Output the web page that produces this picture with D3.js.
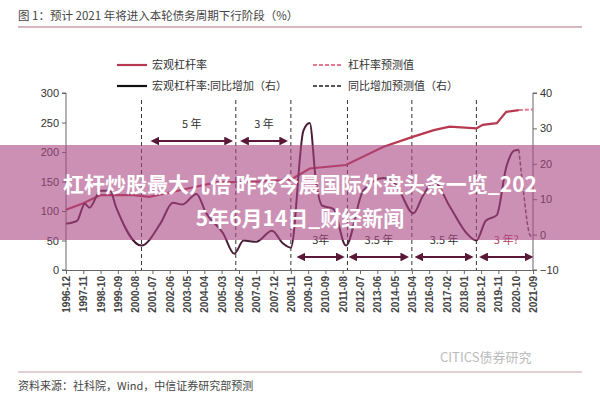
<!DOCTYPE html>
<html><head><meta charset="utf-8">
<script src="https://cdn.jsdelivr.net/npm/d3@7"></script>
<style>body{margin:0;background:#fff}svg{font-family:"Noto Sans CJK SC","Liberation Sans",sans-serif}</style>
</head><body><svg id="c" width="600" height="400"></svg>
<script>
const tickLabels = ["1996-12","1997-11","1998-10","1999-09","2000-08","2001-07","2002-06","2003-05","2004-04","2005-03","2006-02","2007-01","2007-12","2008-11","2009-10","2010-09","2011-08","2012-07","2013-06","2014-05","2015-04","2016-03","2017-02","2018-01","2018-12","2019-11","2020-10","2021-09"];
const levDates = ["1996-12","1997-11","1998-10","2000-07","2001-05","2003-02","2004-12","2006-09","2008-11","2009-11","2011-10","2013-10","2015-05","2016-06","2017-04","2018-09","2019-01","2019-10","2020-04","2020-12"];
const levValues = [102,113,127,127,124,136,149,149,153,172,178,209,226,237,243,240,246,249,268,271];
const levFcDates = ["2020-12","2021-09"];
const levFcValues = [271,272];
const yoyDates = ["1996-12","1997-07","1997-12","1998-03","1998-10","1999-04","1999-08","2000-12","2001-12","2002-08","2003-02","2003-11","2004-05","2005-04","2005-11","2006-05","2007-01","2007-11","2008-06","2008-11","2009-07","2009-11","2010-03","2010-07","2011-02","2011-10","2012-09","2013-10","2014-06","2015-05","2015-11","2016-06","2017-04","2018-03","2018-09","2019-03","2019-10","2020-04","2020-09","2020-12"];
const yoyValues = [3.1,3.9,8.7,7.6,12.4,12.4,7.6,-3.1,3.1,9,8.5,11.5,6.2,0.3,-5.4,-1.7,-2,1.1,-2.5,-3.7,29.3,31.5,15.2,8.2,7.3,-3.1,12.4,16,14,6,11,15,8,0.3,-1.7,3.9,5.5,19,23.7,24];
const yoyFcDates = ["2020-12","2021-03","2021-07","2021-09"];
const yoyFcValues = [24,12,0,-0.8];
const cycleDates = ["2000-12","2005-12","2008-11","2011-11","2015-04","2018-09"];
const topSpans = [["2001-06","2005-10","5 年"],["2006-03","2008-09","3 年"]];
const bottomSpans = [["2009-03","2011-09","3年"],["2011-12","2015-02","3.5 年"],["2015-06","2018-07","3.5 年"],["2018-11","2021-09","3 年?"]];

const P = d3.timeParse("%Y-%m");
const svg = d3.select("#c");
const x = d3.scaleTime().domain([P("1996-12"), P("2021-09")]).range([66, 533]);
const yL = d3.scaleLinear().domain([0, 300]).range([270, 93]);
const yR = d3.scaleLinear().domain([-10, 40]).range([270, 93]);
const red = "#b8394f", dark = "#4a1d36", arrowC = "#5a1838";

// title
svg.append("text").attr("x", 18).attr("y", 20).attr("font-size", 11.5).attr("fill", "#444")
  .text("图 1：预计 2021 年将进入本轮债务周期下行阶段（%）");
svg.append("line").attr("x1", 18).attr("x2", 582).attr("y1", 27).attr("y2", 27).attr("stroke", "#c9a0a8").attr("stroke-width", 1.5);

// legend
const leg = [[117, 65, red, null, "宏观杠杆率"], [313, 65, "#e07a92", "4,2", "杠杆率预测值"],
             [117, 86, "#111", null, "宏观杠杆率:同比增加（右）"], [313, 86, "#555", "4,2", "同比增加预测值（右）"]];
leg.forEach(d => {
  svg.append("line").attr("x1", d[0]).attr("x2", d[0] + 30).attr("y1", d[1]).attr("y2", d[1])
    .attr("stroke", d[2]).attr("stroke-width", 2.2).attr("stroke-dasharray", d[3]);
  svg.append("text").attr("x", d[0] + 35).attr("y", d[1] + 4).attr("font-size", 11).attr("fill", "#333").text(d[4]);
});

// axes
const gl = svg.append("g").attr("transform", "translate(66,0)")
  .call(d3.axisLeft(yL).tickValues([0,50,100,150,200,250,300]).tickSize(4));
const gr = svg.append("g").attr("transform", "translate(533,0)")
  .call(d3.axisRight(yR).tickValues([-10,0,10,20,30,40]).tickSize(4));
const gb = svg.append("g").attr("transform", "translate(0,270)")
  .call(d3.axisBottom(x).tickValues(tickLabels.map(P)).tickFormat(d3.timeFormat("%Y-%m")).tickSize(4));
[gl, gr, gb].forEach(g => { g.selectAll("path,line").attr("stroke", "#666"); g.selectAll("text").attr("fill", "#333").attr("font-size", 11); });
gl.select(".domain").attr("d", "M-4,270H0V93H-4");
gr.select(".domain").attr("d", "M4,270H0V93H4");
gb.selectAll("text").attr("transform", "rotate(-90)").attr("text-anchor", "end")
  .attr("x", -6).attr("y", 0).attr("dy", "0.35em").attr("font-size", 10).attr("font-weight", "bold").attr("fill", "#444");

// cycle lines
svg.selectAll(".cyc").data(cycleDates).join("line")
  .attr("x1", d => x(P(d))).attr("x2", d => x(P(d))).attr("y1", 100).attr("y2", 270)
  .attr("stroke", "#333").attr("stroke-dasharray", "4,3");

// series
const lineL = d3.line().x(d => x(P(d[0]))).y(d => yL(d[1]));
const lineR = d3.line().x(d => x(P(d[0]))).y(d => yR(d[1])).curve(d3.curveMonotoneX);
svg.append("path").attr("d", lineL(d3.zip(levDates, levValues))).attr("fill", "none").attr("stroke", red).attr("stroke-width", 2.2);
svg.append("path").attr("d", lineL(d3.zip(levFcDates, levFcValues))).attr("fill", "none").attr("stroke", "#e07a92").attr("stroke-width", 2).attr("stroke-dasharray", "4,2");
svg.append("path").attr("d", lineR(d3.zip(yoyDates, yoyValues))).attr("fill", "none").attr("stroke", dark).attr("stroke-width", 2);
svg.append("path").attr("d", lineR(d3.zip(yoyFcDates, yoyFcValues))).attr("fill", "none").attr("stroke", "#6a4a5a").attr("stroke-width", 1.5).attr("stroke-dasharray", "4,2");

// arrows
const defs = svg.append("defs");
["s", "e"].forEach(k => defs.append("marker").attr("id", "m" + k).attr("viewBox", "0 0 10 10").attr("refX", 5).attr("refY", 5)
  .attr("markerWidth", 4).attr("markerHeight", 4).attr("orient", "auto-start-reverse")
  .append("path").attr("d", "M0,0L10,5L0,10z").attr("fill", arrowC));
function spans(data, y, ty, col) {
  data.forEach(d => {
    const a = x(P(d[0])), b = x(P(d[1]));
    svg.append("line").attr("x1", a + 4).attr("x2", b - 4).attr("y1", y).attr("y2", y).attr("stroke", arrowC).attr("stroke-width", 2.2)
      .attr("marker-start", "url(#ms)").attr("marker-end", "url(#ms)");
    svg.append("text").attr("x", (a + b) / 2).attr("y", ty).attr("text-anchor", "middle").attr("font-size", 11)
      .attr("fill", d[2] === "3 年?" ? "#b04060" : "#333").text(d[2]);
  });
}
spans(topSpans, 141, 128);
spans(bottomSpans, 257, 244);

// overlay banner
svg.append("rect").attr("x", 0).attr("y", 145).attr("width", 600).attr("height", 95).attr("fill", "rgba(170,70,130,0.6)");
svg.append("text").attr("x", 300).attr("y", 192).attr("text-anchor", "middle").attr("font-size", 21).attr("font-weight", "bold").attr("fill", "#fff")
  .text("杠杆炒股最大几倍 昨夜今晨国际外盘头条一览_202");
svg.append("text").attr("x", 300).attr("y", 226).attr("text-anchor", "middle").attr("font-size", 21).attr("font-weight", "bold").attr("fill", "#fff")
  .text("5年6月14日_财经新闻");

// footer
svg.append("text").attr("x", 440).attr("y", 362).attr("font-size", 13).attr("fill", "#bbb").text("CITICS债券研究");
svg.append("line").attr("x1", 18).attr("x2", 582).attr("y1", 372).attr("y2", 372).attr("stroke", "#c9a0a8").attr("stroke-width", 1.2);
svg.append("text").attr("x", 18).attr("y", 390).attr("font-size", 11).attr("fill", "#444").text("资料来源：社科院，Wind，中信证券研究部预测");
</script></body></html>
